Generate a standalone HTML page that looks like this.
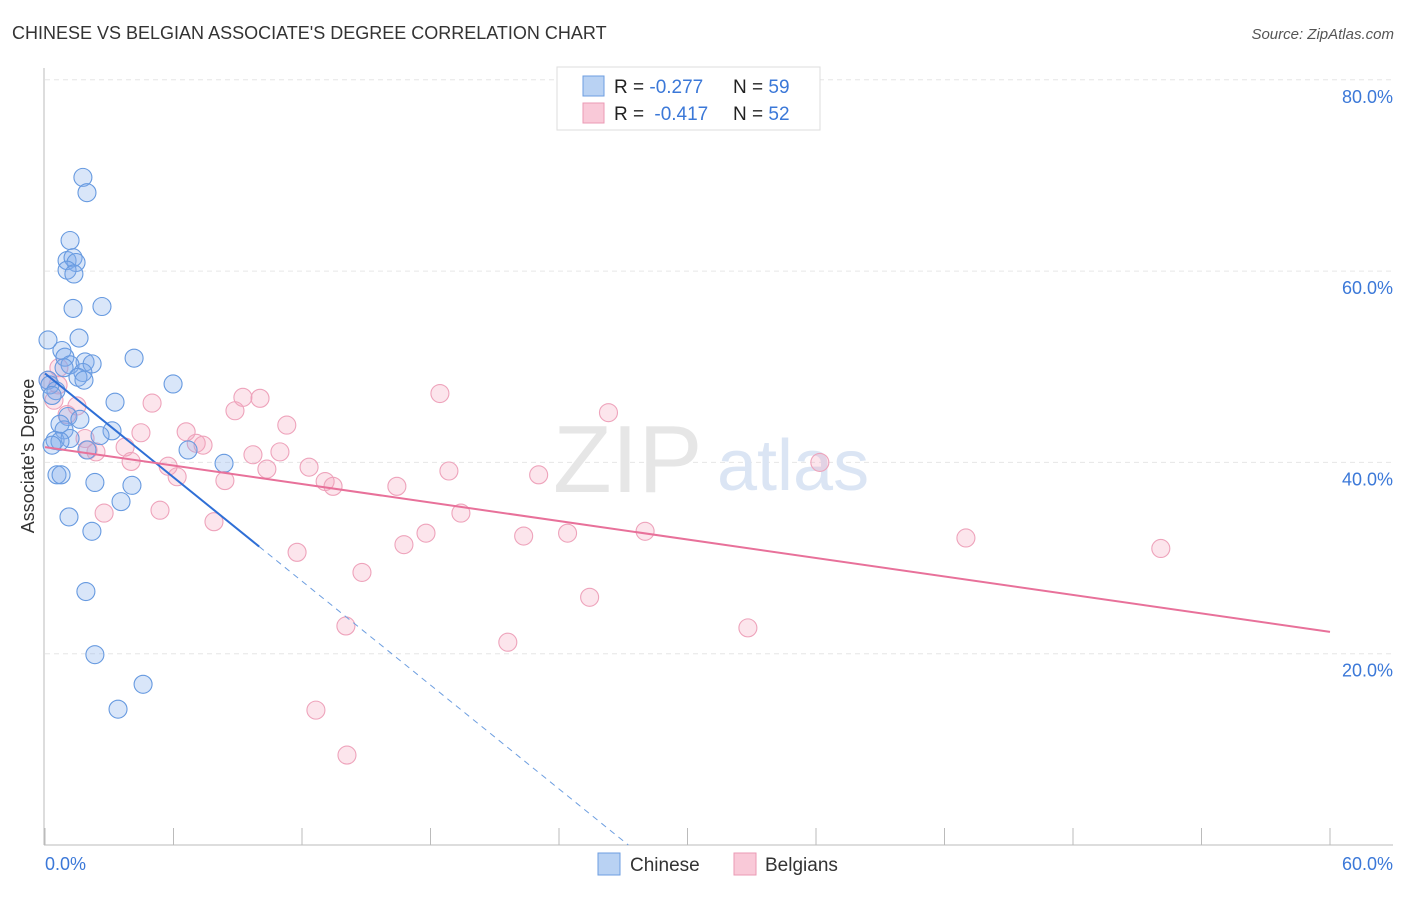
<!DOCTYPE html>
<html><head><meta charset="utf-8"><style>
body{margin:0;background:#fff;font-family:"Liberation Sans",sans-serif;}
svg text{font-family:"Liberation Sans",sans-serif;}
</style></head><body>
<svg id="chart" width="1406" height="892" viewBox="0 0 1406 892">
<text x="12" y="39" font-size="18" fill="#333">CHINESE VS BELGIAN ASSOCIATE'S DEGREE CORRELATION CHART</text>
<text x="1394" y="39" font-size="15" fill="#555" font-style="italic" text-anchor="end">Source: ZipAtlas.com</text>
<g id="grid"></g>
<g>
<text x="553" y="492" font-size="96" font-family="Liberation Serif" fill="#e6e6e6">ZIP</text>
<text x="717" y="490" font-size="72" fill="#dbe5f4">atlas</text>
</g>
<line x1="44" y1="68" x2="44" y2="845" stroke="#bbb"/>
<line x1="44" y1="845" x2="1393" y2="845" stroke="#bbb"/>
<g id="ticks"></g>
<text transform="translate(34,456) rotate(-90)" font-size="18" fill="#333" text-anchor="middle">Associate's Degree</text>
<text x="45" y="870" font-size="18" fill="#3b78d8">0.0%</text>
<text x="1393" y="870" font-size="18" fill="#3b78d8" text-anchor="end">60.0%</text>
<g id="pts"></g>
<g id="lines"></g>
<g>
<rect x="557" y="67" width="263" height="63" fill="#fff" stroke="#ddd"/>
<rect x="583" y="76" width="21" height="20" fill="#b9d2f3" stroke="#6d9ee0"/>
<rect x="583" y="103" width="21" height="20" fill="#f9c9d8" stroke="#eb9ab4"/>
<text x="614" y="93" font-size="19" fill="#222">R = <tspan fill="#3b78d8">-0.277</tspan><tspan x="733">N = </tspan><tspan fill="#3b78d8">59</tspan></text>
<text x="614" y="120" font-size="19" fill="#222">R = <tspan fill="#3b78d8" dx="5">-0.417</tspan><tspan x="733">N = </tspan><tspan fill="#3b78d8">52</tspan></text>
</g>
<g>
<rect x="598" y="853" width="22" height="22" fill="#b9d2f3" stroke="#6d9ee0"/>
<text x="630" y="871" font-size="19" fill="#333">Chinese</text>
<rect x="734" y="853" width="22" height="22" fill="#f9c9d8" stroke="#eb9ab4"/>
<text x="765" y="871" font-size="19" fill="#333">Belgians</text>
</g>
</svg>
<script>
const yTicks=[20,40,60,80];
const yTickLabels=["20.0%","40.0%","60.0%","80.0%"];
const xTicks=[0,6,12,18,24,30,36,42,48,54,60];
const chineseX=[1.77,1.96,1.17,1.03,1.31,1.45,1.03,1.35,1.31,2.66,1.59,0.14,0.79,0.93,4.16,1.87,2.20,1.17,0.89,1.77,1.54,1.82,0.14,0.23,5.98,0.51,0.33,3.27,1.07,1.63,0.70,0.89,3.13,2.57,0.47,1.17,0.70,0.33,6.68,1.96,8.36,0.56,0.75,2.33,4.06,3.55,1.12,2.19,1.91,2.33,4.58,3.41];
const chineseY=[69.8,68.2,63.2,61.1,61.4,60.9,60.1,59.7,56.1,56.3,53.0,52.8,51.7,51.0,50.9,50.5,50.3,50.2,49.9,49.4,48.9,48.6,48.6,48.1,48.2,47.5,47.0,46.3,44.8,44.5,44.0,43.4,43.3,42.8,42.3,42.5,42.2,41.8,41.3,41.3,39.9,38.7,38.7,37.9,37.6,35.9,34.3,32.8,26.5,19.9,16.8,14.2];
const belgX=[0.14,0.61,0.65,0.42,1.49,1.03,1.87,2.01,2.38,3.74,2.76,4.02,4.48,5.00,5.37,5.75,6.17,6.59,7.06,7.38,7.89,8.40,8.87,9.24,10.04,9.71,10.36,10.97,11.29,11.77,12.33,13.08,13.45,14.05,12.65,14.10,14.80,16.43,16.76,17.79,18.44,18.86,19.42,21.61,22.35,23.05,24.40,25.43,26.31,28.02,32.82,36.18,43.00,52.10];
const belgY=[48.6,48.1,49.9,46.5,45.9,45.0,42.5,41.3,41.1,41.6,34.7,40.1,43.1,46.2,35.0,39.6,38.5,43.2,42.0,41.8,33.8,38.1,45.4,46.8,46.7,40.8,39.3,41.1,43.9,30.6,39.5,38.0,37.5,22.9,14.1,9.4,28.5,37.5,31.4,32.6,47.2,39.1,34.7,21.2,32.3,38.7,32.6,25.9,45.2,32.8,22.7,40.0,32.1,31.0];
const chineseTrend=[49.3,-1.81];
const belgTrend=[41.6,-0.322];
const NS="http://www.w3.org/2000/svg";
const xs=v=>45+v/60*1285;
const ys=v=>845-v/20*191.3;
function mk(t,a,p){const e=document.createElementNS(NS,t);for(const k in a)e.setAttribute(k,a[k]);p.appendChild(e);return e;}
const grid=document.getElementById('grid');
yTicks.forEach((v,i)=>{
 const l=mk('line',{x1:45,x2:1393,y1:ys(v),y2:ys(v),stroke:'#e6e6e6','stroke-dasharray':'5,4'},grid);
 
 
 const t=mk('text',{x:1393,y:ys(v)+23,'font-size':18,fill:'#3b78d8','text-anchor':'end'},grid);
 t.textContent=yTickLabels[i];
 
 
});
const tk=document.getElementById('ticks');
xTicks.forEach(v=>{
 const l=mk('line',{x1:xs(v),x2:xs(v),y1:828,y2:845,stroke:'#bbb'},tk);
 
 
});
const pts=document.getElementById('pts');
belgX.forEach((x,i)=>{
 const c=mk('circle',{cx:xs(x),cy:ys(belgY[i]),r:9,fill:'rgba(244,160,188,0.28)',stroke:'#eea3bb','stroke-width':1.1},pts);
 
 
});
chineseX.forEach((x,i)=>{
 const c=mk('circle',{cx:xs(x),cy:ys(chineseY[i]),r:9,fill:'rgba(130,172,234,0.3)',stroke:'#679ae0','stroke-width':1.1},pts);
 
 
});
const lg=document.getElementById('lines');
const f=(t,x)=>t[0]+t[1]*x;
let l1=mk('line',{x1:xs(0),y1:ys(f(chineseTrend,0)),x2:xs(10),y2:ys(f(chineseTrend,10)),stroke:'#2f6fd6','stroke-width':2},lg);


const xz=-chineseTrend[0]/chineseTrend[1];
let l2=mk('line',{x1:xs(10),y1:ys(f(chineseTrend,10)),x2:xs(xz),y2:ys(0),stroke:'#6d9ee0','stroke-width':1,'stroke-dasharray':'6,5'},lg);


let l3=mk('line',{x1:xs(0),y1:ys(f(belgTrend,0)),x2:xs(60),y2:ys(f(belgTrend,60)),stroke:'#e8719a','stroke-width':2},lg);


</script>
</body></html>
